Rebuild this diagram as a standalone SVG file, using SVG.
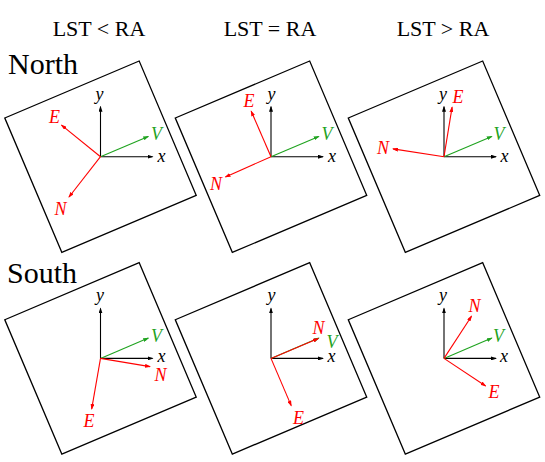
<svg xmlns="http://www.w3.org/2000/svg" width="545" height="462" viewBox="0 0 545 462">
<style>
.sq{fill:none;stroke:#000;stroke-width:1.3}
.ax{stroke:#000;stroke-width:1.1;fill:none}
.rd{stroke:#f00;stroke-width:1.1;fill:none}
.gr{stroke:#1fa31f;stroke-width:1.1;fill:none}
.t{font-family:"Liberation Serif",serif;fill:#000}
.lb{font-family:"Liberation Serif",serif;font-style:italic;font-size:18px;text-anchor:middle}
.lk{fill:#000}.lr{fill:#f00}.lg{fill:#1fa31f}
</style>
<defs>
<marker id="ak" viewBox="0 0 6 4" refX="5" refY="2" markerWidth="6" markerHeight="4" markerUnits="userSpaceOnUse" orient="auto"><path d="M0,0L6,2L0,4z" fill="#000"/></marker>
<marker id="ar" viewBox="0 0 6 4" refX="5" refY="2" markerWidth="6" markerHeight="4" markerUnits="userSpaceOnUse" orient="auto"><path d="M0,0L6,2L0,4z" fill="#f00"/></marker>
<marker id="ag" viewBox="0 0 6 4" refX="5" refY="2" markerWidth="6" markerHeight="4" markerUnits="userSpaceOnUse" orient="auto"><path d="M0,0L6,2L0,4z" fill="#1fa31f"/></marker>
</defs>
<g id="titles">
<text class="t" x="99" y="36" font-size="22" text-anchor="middle">LST &lt; RA</text>
<text class="t" x="270" y="36" font-size="22" text-anchor="middle">LST = RA</text>
<text class="t" x="443" y="36" font-size="22" text-anchor="middle">LST &gt; RA</text>
<text class="t" x="8" y="74" font-size="30">North</text>
<text class="t" x="7" y="283" font-size="30">South</text>
</g>
<g id="north-lt" transform="translate(100.5,156.7)">
<rect class="sq" x="-73" y="-73" width="146" height="146" transform="rotate(-23)"/>
<g class="connectors">
<line class="ax" x1="0" y1="0" x2="52" y2="0" marker-end="url(#ak)"/>
<line class="ax" x1="0" y1="0" x2="0" y2="-50" marker-end="url(#ak)"/>
<line class="gr" x1="0" y1="0" x2="47.8" y2="-20.3" marker-end="url(#ag)"/>
<line class="rd" x1="0" y1="0" x2="-39" y2="-31.6" marker-end="url(#ar)"/>
<line class="rd" x1="0" y1="0" x2="-31.5" y2="40.3" marker-end="url(#ar)"/>
</g>
<text class="lb lk" x="61" y="5">x</text>
<text class="lb lk" x="-1" y="-57">y</text>
<text class="lb lg" x="56" y="-17">V</text>
<text class="lb lr" x="-46" y="-33.4">E</text>
<text class="lb lr" x="-40" y="58">N</text>
</g>
<g id="north-eq" transform="translate(271,156.7)">
<rect class="sq" x="-73" y="-73" width="146" height="146" transform="rotate(-23)"/>
<g class="connectors">
<line class="ax" x1="0" y1="0" x2="52" y2="0" marker-end="url(#ak)"/>
<line class="ax" x1="0" y1="0" x2="0" y2="-50" marker-end="url(#ak)"/>
<line class="gr" x1="0" y1="0" x2="47.8" y2="-20.3" marker-end="url(#ag)"/>
<line class="rd" x1="0" y1="0" x2="-19.8" y2="-45.5" marker-end="url(#ar)"/>
<line class="rd" x1="0" y1="0" x2="-45.5" y2="20.2" marker-end="url(#ar)"/>
</g>
<text class="lb lk" x="61" y="5">x</text>
<text class="lb lk" x="0.5" y="-57">y</text>
<text class="lb lg" x="56" y="-17">V</text>
<text class="lb lr" x="-22" y="-49.4">E</text>
<text class="lb lr" x="-55" y="33">N</text>
</g>
<g id="north-gt" transform="translate(444,156.7)">
<rect class="sq" x="-73" y="-73" width="146" height="146" transform="rotate(-23)"/>
<g class="connectors">
<line class="ax" x1="0" y1="0" x2="52" y2="0" marker-end="url(#ak)"/>
<line class="ax" x1="0" y1="0" x2="0" y2="-50" marker-end="url(#ak)"/>
<line class="gr" x1="0" y1="0" x2="47.8" y2="-20.3" marker-end="url(#ag)"/>
<line class="rd" x1="0" y1="0" x2="8.1" y2="-49.5" marker-end="url(#ar)"/>
<line class="rd" x1="0" y1="0" x2="-51" y2="-7.8" marker-end="url(#ar)"/>
</g>
<text class="lb lk" x="60.5" y="5">x</text>
<text class="lb lk" x="-1" y="-57">y</text>
<text class="lb lg" x="55" y="-17">V</text>
<text class="lb lr" x="14" y="-53.4">E</text>
<text class="lb lr" x="-61" y="-2.7">N</text>
</g>
<g id="south-lt" transform="translate(100.5,358.4)">
<rect class="sq" x="-73" y="-73" width="146" height="146" transform="rotate(-23)"/>
<g class="connectors">
<line class="ax" x1="0" y1="0" x2="52" y2="0" marker-end="url(#ak)"/>
<line class="ax" x1="0" y1="0" x2="0" y2="-50" marker-end="url(#ak)"/>
<line class="gr" x1="0" y1="0" x2="47.8" y2="-20.3" marker-end="url(#ag)"/>
<line class="rd" x1="0" y1="0" x2="49.5" y2="8.2" marker-end="url(#ar)"/>
<line class="rd" x1="0" y1="0" x2="-8.8" y2="50.5" marker-end="url(#ar)"/>
</g>
<text class="lb lk" x="61" y="4">x</text>
<text class="lb lk" x="-0.5" y="-57">y</text>
<text class="lb lg" x="56" y="-16">V</text>
<text class="lb lr" x="60" y="22.4">N</text>
<text class="lb lr" x="-11.5" y="68.4">E</text>
</g>
<g id="south-eq" transform="translate(271,358.4)">
<rect class="sq" x="-73" y="-73" width="146" height="146" transform="rotate(-23)"/>
<g class="connectors">
<line class="ax" x1="0" y1="0" x2="52" y2="0" marker-end="url(#ak)"/>
<line class="ax" x1="0" y1="0" x2="0" y2="-50" marker-end="url(#ak)"/>
<line class="gr" x1="0" y1="0" x2="47.8" y2="-20.3" marker-end="url(#ag)"/>
<line class="rd" x1="0" y1="0" x2="47.2" y2="-19.8" marker-end="url(#ar)"/>
<line class="rd" x1="0" y1="0" x2="20.2" y2="47.2" marker-end="url(#ar)"/>
</g>
<text class="lb lk" x="60.5" y="4">x</text>
<text class="lb lk" x="0.5" y="-57">y</text>
<text class="lb lr" x="47.5" y="-24">N</text>
<text class="lb lg" x="61" y="-10.3">V</text>
<text class="lb lr" x="27.5" y="65.7">E</text>
</g>
<g id="south-gt" transform="translate(444,358.4)">
<rect class="sq" x="-73" y="-73" width="146" height="146" transform="rotate(-23)"/>
<g class="connectors">
<line class="ax" x1="0" y1="0" x2="52" y2="0" marker-end="url(#ak)"/>
<line class="ax" x1="0" y1="0" x2="0" y2="-50" marker-end="url(#ak)"/>
<line class="gr" x1="0" y1="0" x2="47.8" y2="-20.3" marker-end="url(#ag)"/>
<line class="rd" x1="0" y1="0" x2="27.5" y2="-42.2" marker-end="url(#ar)"/>
<line class="rd" x1="0" y1="0" x2="41.6" y2="27.6" marker-end="url(#ar)"/>
</g>
<text class="lb lk" x="60" y="4">x</text>
<text class="lb lk" x="-1" y="-57">y</text>
<text class="lb lr" x="30.5" y="-46">N</text>
<text class="lb lg" x="54.5" y="-16">V</text>
<text class="lb lr" x="50" y="40">E</text>
</g>
</svg>
